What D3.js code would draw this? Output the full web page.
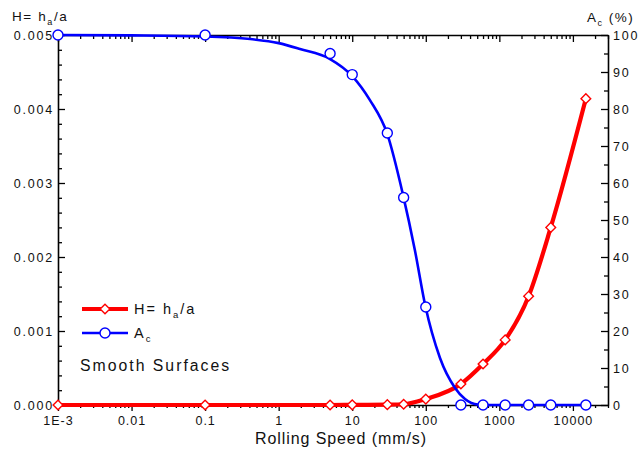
<!DOCTYPE html>
<html>
<head>
<meta charset="utf-8">
<script src="https://cdn.jsdelivr.net/npm/d3@7"></script>
<style>
  body { margin: 0; background: #fff; }
  text { font-family: "Liberation Sans", Arial, sans-serif; fill: #111; }
</style>
</head>
<body>
<div id="chart"></div>
<script>
// measured points (speed in mm/s)
const speed = [0.001, 0.1, 5, 10, 30, 50, 100, 300, 600, 1200, 2500, 5000, 15000];
const hValues = [0, 0, 0, 0.000002, 0.000005, 0.00001, 0.00008, 0.000284, 0.000554, 0.00088, 0.00147, 0.0024, 0.00414];
const acValues = [100, 100, 95, 89.3, 73.5, 56.1, 26.5, 0, 0, 0, 0, 0, 0];

// fitted Ac curve
const acFitSpeed = [0.001, 0.01, 0.1, 0.41, 1, 1.95, 5, 10, 17.4, 30, 49, 71, 98, 156, 250, 341, 513, 746, 1200, 2500, 5000, 15000];
const acFitValue = [100, 99.9, 99.6, 98.9, 97.8, 96.2, 93.5, 88.9, 82.4, 73.2, 56.8, 41.9, 27.0, 12.7, 4.6, 1.6, 0.1, 0, 0, 0, 0, 0];

// axis ticks
const xTicks = [0.001, 0.01, 0.1, 1, 10, 100, 1000, 10000];
const xTickLabels = ["1E-3", "0.01", "0.1", "1", "10", "100", "1000", "10000"];
const hTicks = [0, 0.001, 0.002, 0.003, 0.004, 0.005];
const acTicks = [0, 10, 20, 30, 40, 50, 60, 70, 80, 90, 100];

const margin = {top: 35, right: 30, bottom: 44, left: 58},
      width = 638 - margin.left - margin.right,
      height = 449 - margin.top - margin.bottom;

const svg = d3.select("#chart")
  .append("svg")
    .attr("width", 638)
    .attr("height", 449)
  .append("g")
    .attr("transform", `translate(${margin.left},${margin.top})`);

const x = d3.scaleLog().domain([0.001, 30000]).range([0, width]);
const y = d3.scaleLinear().domain([0, 0.005]).range([height, 0]);
const y2 = d3.scaleLinear().domain([0, 100]).range([height, 0]);

// minor ticks for the log axis
const xMinor = [];
for (let e = -3; e <= 4; e++) {
  for (let k = 2; k <= 9; k++) {
    const v = k * Math.pow(10, e);
    if (v <= 30000) xMinor.push(v);
  }
}
const hMinor = d3.range(0, 0.00501, 0.0002).filter(v => !hTicks.some(t => Math.abs(t - v) < 1e-9));
const acMinor = d3.range(5, 100, 10);

function styleAxis(g, ls) {
  g.select(".domain").attr("stroke", "#000").attr("stroke-width", 1.6);
  g.selectAll(".tick line").attr("stroke", "#000").attr("stroke-width", 1.3);
  g.selectAll(".tick text").attr("font-size", "12.5px").attr("fill", "#111")
    .attr("letter-spacing", ls || 0)
    .attr("font-family", "Liberation Sans, Arial, sans-serif");
}

// bottom axis
svg.append("g")
  .attr("transform", `translate(0,${height})`)
  .call(d3.axisBottom(x).tickValues(xTicks).tickFormat((d, i) => xTickLabels[i]).tickSize(6).tickSizeOuter(0).tickPadding(5))
  .call(styleAxis, 1);
svg.append("g")
  .attr("transform", `translate(0,${height})`)
  .call(d3.axisBottom(x).tickValues(xMinor).tickFormat("").tickSize(3).tickSizeOuter(0))
  .call(g => g.select(".domain").remove())
  .call(styleAxis);

// top axis (ticks inward)
svg.append("g")
  .call(d3.axisBottom(x).tickValues(xTicks).tickFormat("").tickSize(7).tickSizeOuter(0))
  .call(styleAxis);
svg.append("g")
  .call(d3.axisBottom(x).tickValues(xMinor).tickFormat("").tickSize(4).tickSizeOuter(0))
  .call(g => g.select(".domain").remove())
  .call(styleAxis);

// left axis
svg.append("g")
  .call(d3.axisLeft(y).tickValues(hTicks).tickFormat(d3.format(".3f")).tickSize(-7).tickSizeOuter(0).tickPadding(4))
  .call(styleAxis, 1.8);
svg.append("g")
  .call(d3.axisLeft(y).tickValues(hMinor).tickFormat("").tickSize(-4).tickSizeOuter(0))
  .call(g => g.select(".domain").remove())
  .call(styleAxis);

// right axis
svg.append("g")
  .attr("transform", `translate(${width},0)`)
  .call(d3.axisRight(y2).tickValues(acTicks).tickSize(-7).tickSizeOuter(0).tickPadding(5))
  .call(styleAxis, 1.8);
svg.append("g")
  .attr("transform", `translate(${width},0)`)
  .call(d3.axisRight(y2).tickValues(acMinor).tickFormat("").tickSize(-4).tickSizeOuter(0))
  .call(g => g.select(".domain").remove())
  .call(styleAxis);

// lines
const hLine = d3.line()
  .x((d, i) => x(speed[i]))
  .y(d => y(d))
  .curve(d3.curveMonotoneX);

svg.append("path")
  .datum(hValues)
  .attr("fill", "none")
  .attr("stroke", "#ff0000")
  .attr("stroke-width", 4.2)
  .attr("d", hLine);

const acLine = d3.line()
  .x((d, i) => x(acFitSpeed[i]))
  .y(d => y2(d))
  .curve(d3.curveMonotoneX);

svg.append("path")
  .datum(acFitValue)
  .attr("fill", "none")
  .attr("stroke", "#0000ff")
  .attr("stroke-width", 2.6)
  .attr("d", acLine);

// markers
const diamond = d3.symbol().type(d3.symbolDiamond2).size(60);

svg.selectAll(".hpt")
  .data(hValues)
  .join("path")
    .attr("class", "hpt")
    .attr("d", diamond)
    .attr("transform", (d, i) => `translate(${x(speed[i])},${y(d)})`)
    .attr("fill", "#fff")
    .attr("stroke", "#ff0000")
    .attr("stroke-width", 1.4);

svg.selectAll(".acpt")
  .data(acValues)
  .join("circle")
    .attr("class", "acpt")
    .attr("cx", (d, i) => x(speed[i]))
    .attr("cy", d => y2(d))
    .attr("r", 5)
    .attr("fill", "#fff")
    .attr("stroke", "#0000ff")
    .attr("stroke-width", 1.4);

// axis titles
const leftTitle = svg.append("text")
  .attr("x", 12 - margin.left)
  .attr("y", 21 - margin.top)
  .attr("font-size", "13.5px")
  .attr("letter-spacing", 1.6);
leftTitle.append("tspan").text("H= h");
leftTitle.append("tspan").attr("font-size", "9px").attr("dy", 4).text("a");
leftTitle.append("tspan").attr("dy", -4).text("/a");

const rightTitle = svg.append("text")
  .attr("x", 587 - margin.left)
  .attr("y", 22 - margin.top)
  .attr("font-size", "13.5px")
  .attr("letter-spacing", 1.5);
rightTitle.append("tspan").text("A");
rightTitle.append("tspan").attr("font-size", "9px").attr("dy", 4).text("c");
rightTitle.append("tspan").attr("dy", -4).text(" (%)");

svg.append("text")
  .attr("x", width / 2 + 8)
  .attr("y", height + 39)
  .attr("text-anchor", "middle")
  .attr("font-size", "16px")
  .attr("letter-spacing", 0.9)
  .text("Rolling Speed (mm/s)");

// legend
const legend = svg.append("g").attr("transform", `translate(${82 - margin.left},0)`);
const legY1 = 309 - margin.top, legY2 = 333 - margin.top;

legend.append("line")
  .attr("x1", 0).attr("x2", 46).attr("y1", legY1).attr("y2", legY1)
  .attr("stroke", "#ff0000").attr("stroke-width", 4.2);
legend.append("path")
  .attr("d", diamond)
  .attr("transform", `translate(23,${legY1})`)
  .attr("fill", "#fff").attr("stroke", "#ff0000").attr("stroke-width", 1.4);
const lt1 = legend.append("text").attr("x", 52).attr("y", legY1 + 5)
  .attr("font-size", "14.5px").attr("letter-spacing", 2);
lt1.append("tspan").text("H= h");
lt1.append("tspan").attr("font-size", "9.5px").attr("dy", 4).text("a");
lt1.append("tspan").attr("dy", -4).text("/a");

legend.append("line")
  .attr("x1", 0).attr("x2", 46).attr("y1", legY2).attr("y2", legY2)
  .attr("stroke", "#0000ff").attr("stroke-width", 2.6);
legend.append("circle")
  .attr("cx", 23).attr("cy", legY2).attr("r", 5)
  .attr("fill", "#fff").attr("stroke", "#0000ff").attr("stroke-width", 1.4);
const lt2 = legend.append("text").attr("x", 52).attr("y", legY2 + 5)
  .attr("font-size", "14.5px").attr("letter-spacing", 2);
lt2.append("tspan").text("A");
lt2.append("tspan").attr("font-size", "9.5px").attr("dy", 4).text("c");

legend.append("text")
  .attr("x", -2)
  .attr("y", 371 - margin.top)
  .attr("font-size", "15.8px")
  .attr("letter-spacing", 2)
  .text("Smooth Surfaces");
</script>
</body>
</html>
